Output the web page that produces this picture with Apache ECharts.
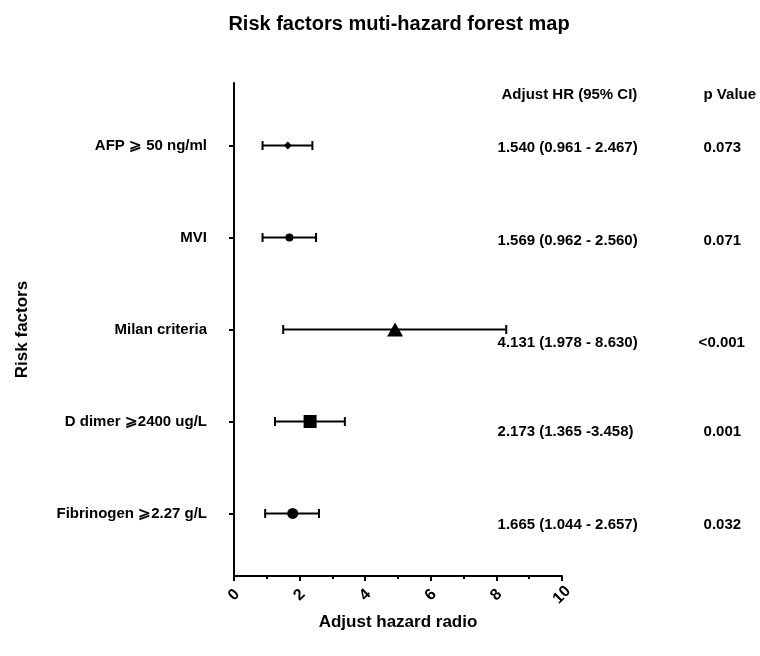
<!DOCTYPE html>
<html>
<head>
<meta charset="UTF-8">
<title>Risk factors forest map</title>
<script src="https://cdn.jsdelivr.net/npm/echarts@6/dist/echarts.min.js"></script>
<style>
  html, body { margin: 0; padding: 0; background: #fff; }
  #main { width: 760px; height: 656px; }
</style>
</head>
<body>
<div id="main"></div>
<script>
// 数据
var factors = ['AFP ⩾ 50 ng/ml', 'MVI', 'Milan criteria', 'D dimer ⩾2400 ug/L', 'Fibrinogen ⩾2.27 g/L'];
var hrPoint = [1.64, 1.69, 4.91, 2.32, 1.79];
var ciLow   = [0.87, 0.87, 1.50, 1.25, 0.95];
var ciHigh  = [2.39, 2.50, 8.30, 3.38, 2.59];
var markers = ['diamond', 'circle', 'triangle', 'rect', 'circle'];
var hrText  = ['1.540 (0.961 - 2.467)', '1.569 (0.962 - 2.560)', '4.131 (1.978 - 8.630)', '2.173 (1.365 -3.458)', '1.665 (1.044 - 2.657)'];
var pText   = ['0.073', '0.071', '<0.001', '0.001', '0.032'];
var xTicks  = [0, 2, 4, 6, 8, 10];

// layout tweaks
var markerSize = [8, 8, [16, 14], 13, 11];
var textShift = [0.03, 0.04, 0.15, 0.11, 0.12];   // text rows sit a bit lower than the ticks
var font = 'Liberation Sans, Arial, sans-serif';
var txt = { fontFamily: font, fontWeight: 'bold', color: '#000', opacity: 1 };

var rows = factors.map(function (f, i) { return i + 1; });

var option = {
    animation: false,
    textStyle: { fontFamily: font },
    title: {
        text: 'Risk factors muti-hazard forest map',
        left: 394, top: 9, textAlign: 'center',
        textStyle: { fontFamily: font, fontSize: 20, fontWeight: 'bold', color: '#000' }
    },
    grid: { left: 234, right: 198, top: 83, bottom: 80 },
    xAxis: {
        type: 'value', min: 0, max: 10, interval: 2,
        name: 'Adjust hazard radio', nameLocation: 'middle', nameGap: 33,
        nameTextStyle: { fontFamily: font, fontSize: 17, fontWeight: 'bold', color: '#000' },
        axisLine: { show: true, lineStyle: { color: '#000', width: 2 } },
        axisTick: { show: true, length: 5, lineStyle: { color: '#000', width: 2 } },
        minorTick: { show: true, splitNumber: 2, length: 3, lineStyle: { color: '#000', width: 2 } },
        splitLine: { show: false },
        axisLabel: {
            rotate: 45, margin: 19, align: 'center', verticalAlign: 'middle',
            fontFamily: font, fontSize: 16, fontWeight: 'bold', color: '#000',
            customValues: xTicks
        }
    },
    yAxis: {
        type: 'value', min: 0.32, max: 5.68, inverse: true,
        name: 'Risk factors', nameLocation: 'middle', nameGap: 203, nameRotate: 90,
        nameTextStyle: { fontFamily: font, fontSize: 17, fontWeight: 'bold', color: '#000' },
        axisLine: { show: true, lineStyle: { color: '#000', width: 2 } },
        axisTick: { show: true, length: 5, customValues: rows, lineStyle: { color: '#000', width: 2 } },
        splitLine: { show: false },
        axisLabel: {
            margin: 27, customValues: rows,
            fontFamily: font, fontSize: 15, fontWeight: 'bold', color: '#000',
            formatter: function (v) { return factors[Math.round(v) - 1]; }
        }
    },
    series: [
        {
            // 误差线
            type: 'custom',
            data: rows.map(function (r, i) { return [ciLow[i], ciHigh[i], r]; }),
            renderItem: function (params, api) {
                var a = api.coord([api.value(0), api.value(2)]);
                var b = api.coord([api.value(1), api.value(2)]);
                var h = 4.5;
                var st = { stroke: '#000', lineWidth: 2 };
                return {
                    type: 'group',
                    children: [
                        { type: 'line', shape: { x1: a[0], y1: a[1], x2: b[0], y2: b[1] }, style: st },
                        { type: 'line', shape: { x1: a[0], y1: a[1] - h, x2: a[0], y2: a[1] + h }, style: st },
                        { type: 'line', shape: { x1: b[0], y1: b[1] - h, x2: b[0], y2: b[1] + h }, style: st }
                    ]
                };
            },
            z: 2
        },
        {
            // 点估计
            type: 'scatter',
            data: rows.map(function (r, i) {
                return { value: [hrPoint[i], r], symbol: markers[i], symbolSize: markerSize[i] };
            }),
            itemStyle: { color: '#000', opacity: 1 },
            z: 3
        },
        {
            // HR (95% CI) 列
            type: 'scatter', clip: false, symbolSize: 1, silent: true,
            itemStyle: { color: 'rgba(0,0,0,0)', opacity: 1 },
            data: [[8.14, 0.45, 'Adjust HR (95% CI)']].concat(rows.map(function (r, i) {
                return [8.02, r + textShift[i], hrText[i]];
            })),
            label: Object.assign({
                show: true, position: 'right', distance: 0, fontSize: 15,
                formatter: function (p) { return p.data[2]; }
            }, txt)
        },
        {
            // p 值列
            type: 'scatter', clip: false, symbolSize: 1, silent: true,
            itemStyle: { color: 'rgba(0,0,0,0)', opacity: 1 },
            data: [[14.3, 0.45, 'p Value']].concat(rows.map(function (r, i) {
                return [pText[i].charAt(0) === '<' ? 14.15 : 14.3, r + textShift[i], pText[i]];
            })),
            label: Object.assign({
                show: true, position: 'right', distance: 0, fontSize: 15,
                formatter: function (p) { return p.data[2]; }
            }, txt)
        }
    ]
};

var myChart = echarts.init(document.getElementById('main'));
myChart.setOption(option);
</script>
</body>
</html>
